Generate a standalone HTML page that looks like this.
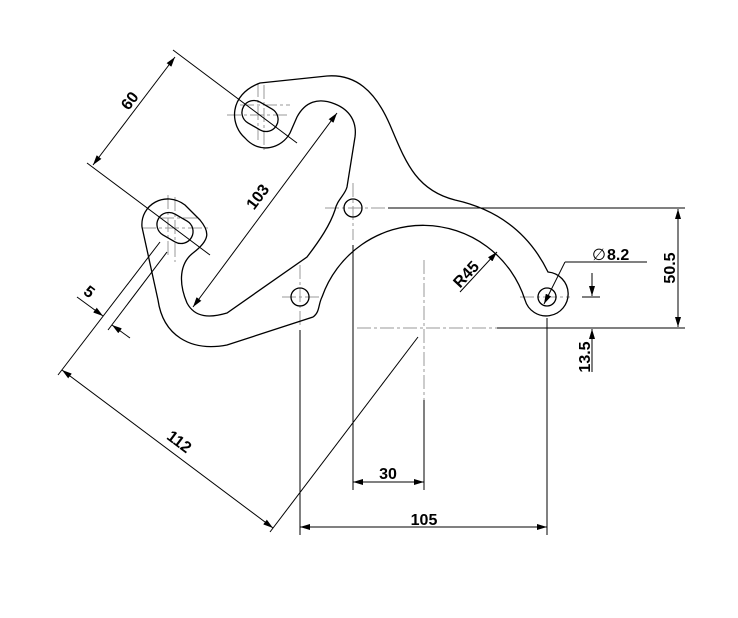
<!DOCTYPE html>
<html><head><meta charset="utf-8"><style>
html,body{margin:0;padding:0;background:#fff;}
svg{display:block;}
text{font-family:"Liberation Sans",sans-serif;font-weight:bold;font-size:16px;fill:#000;}
</style></head><body>
<svg width="738" height="618" viewBox="0 0 738 618" xmlns="http://www.w3.org/2000/svg">
<defs>
<marker id="a" viewBox="0 0 10 6" refX="10" refY="3" markerWidth="10" markerHeight="6" orient="auto-start-reverse" markerUnits="userSpaceOnUse">
<path d="M0,0 L10,3 L0,6 z" fill="#000"/></marker>
</defs>
<rect width="738" height="618" fill="#fff"/>
<g stroke="#999" stroke-width="1" fill="none" stroke-dasharray="14,3,3,3">
<line x1="325" y1="208" x2="388" y2="208"/>
<line x1="357" y1="328" x2="497" y2="328"/>
<line x1="424" y1="260" x2="424" y2="485"/>
<line x1="353" y1="183" x2="353" y2="240"/>
<line x1="300" y1="265" x2="300" y2="325"/>
<line x1="520" y1="297" x2="570" y2="297"/>
<line x1="282" y1="297" x2="320" y2="297"/>
<line x1="227" y1="115" x2="288" y2="115"/>
<line x1="264" y1="85" x2="264" y2="150"/>
<line x1="142" y1="228" x2="208" y2="228"/>
<line x1="175" y1="197" x2="175" y2="262"/>
<line x1="240" y1="105" x2="290" y2="105"/>
<line x1="160" y1="218" x2="198" y2="218"/>
<line x1="168" y1="195" x2="168" y2="255"/>
<line x1="258" y1="83" x2="258" y2="140"/>
</g>
<g stroke="#000" stroke-width="1.3" fill="none">
<path d="M260,83 L327,76 C355,74 375,90 390,125 C405,160 415,190 455,200 C500,210 530,235 548,272
 A22,22 0 1 1 525,300 A107,107 0 0 0 322,297 C318,305 320,312 313,317 L227,345 C190,352 163,335 158,300
 L142,227 C140,205 165,190 185,205 L200,220 C210,232 210,240 193,253 C180,263 178,282 187,303 C195,318 210,318 227,313
 L307,257 C320,240 330,225 335,210 C337,200 345,195 347,187 L355,137 C357,122 350,110 335,104 C318,97 305,102 297,117
 L290,133 C282,148 260,155 245,138 C230,125 228,95 260,83 Z"/>
<rect x="241" y="104" width="38" height="24" rx="12" transform="rotate(30 260 116)"/>
<rect x="156" y="216" width="38" height="24" rx="12" transform="rotate(30 175 228)"/>
<circle cx="353" cy="208" r="9"/>
<circle cx="300" cy="297" r="9"/>
<circle cx="547" cy="297" r="9"/>
</g>
<g stroke="#000" stroke-width="1" fill="none">
<line x1="388" y1="208" x2="685" y2="208"/>
<line x1="497" y1="328" x2="685" y2="328"/>
<line x1="353" y1="245" x2="353" y2="490"/>
<line x1="424" y1="400" x2="424" y2="490"/>
<line x1="300" y1="330" x2="300" y2="535"/>
<line x1="547" y1="318" x2="547" y2="535"/>
<line x1="582" y1="297" x2="600" y2="297"/>
<line x1="418" y1="337" x2="270" y2="532"/>
<line x1="160" y1="242" x2="58" y2="375"/>
<line x1="167" y1="252" x2="108" y2="330"/>
<line x1="173" y1="50" x2="297" y2="143"/>
<line x1="87" y1="163" x2="210" y2="255"/>
<line x1="565" y1="262" x2="647" y2="262"/>
</g>
<g stroke="#000" stroke-width="1" fill="none" marker-start="url(#a)" marker-end="url(#a)">
<line x1="353" y1="482" x2="424" y2="482"/>
<line x1="300" y1="527" x2="547" y2="527"/>
<line x1="678" y1="209" x2="678" y2="327"/>
<line x1="62" y1="370" x2="273" y2="528"/>
<line x1="175" y1="57" x2="93" y2="165"/>
<line x1="337" y1="113" x2="193" y2="307"/>
</g>
<g stroke="#000" stroke-width="1" fill="none">
<line x1="592" y1="273" x2="592" y2="296" marker-end="url(#a)"/>
<line x1="592" y1="372" x2="592" y2="329" marker-end="url(#a)"/>
<line x1="77" y1="297" x2="103" y2="316" marker-end="url(#a)"/>
<line x1="130" y1="338" x2="112" y2="325" marker-end="url(#a)"/>
<line x1="565" y1="262" x2="544" y2="304" marker-end="url(#a)"/>
<line x1="460" y1="292" x2="497" y2="252" marker-end="url(#a)"/>
</g>
<text x="388" y="479" text-anchor="middle">30</text>
<text x="424" y="525" text-anchor="middle">105</text>
<text transform="translate(675,268) rotate(-90)" text-anchor="middle">50.5</text>
<text transform="translate(590,357) rotate(-90)" text-anchor="middle">13.5</text>
<text x="592" y="260" style="font-weight:normal">∅</text>
<text x="607" y="260">8.2</text>
<text transform="translate(470,278) rotate(-47)" text-anchor="middle">R45</text>
<text transform="translate(176,446) rotate(37)" text-anchor="middle">112</text>
<text transform="translate(86,296) rotate(37)" text-anchor="middle">5</text>
<text transform="translate(134,104) rotate(-53)" text-anchor="middle">60</text>
<text transform="translate(262,200) rotate(-53)" text-anchor="middle">103</text>
</svg>
</body></html>
